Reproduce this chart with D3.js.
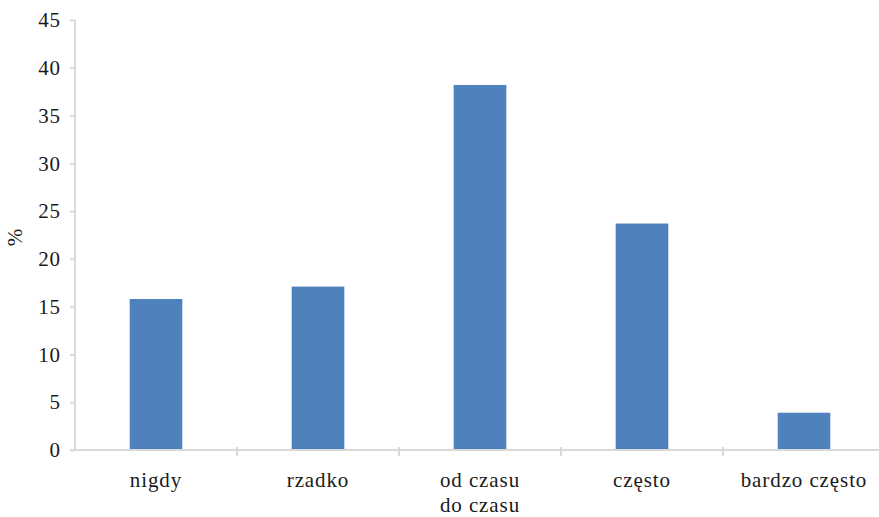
<!DOCTYPE html>
<html>
<head>
<meta charset="utf-8">
<script src="https://cdn.jsdelivr.net/npm/d3@7"></script>
<style>
  html, body { margin: 0; padding: 0; background: #fff; }
</style>
</head>
<body>
<svg id="chart" width="879" height="517"></svg>
<script>
// Response frequency shares, in percent
const categories = [["nigdy"], ["rzadko"], ["od czasu", "do czasu"], ["często"], ["bardzo często"]];
const values = [15.8, 17.1, 38.2, 23.7, 3.9];
const yTicks = [0, 5, 10, 15, 20, 25, 30, 35, 40, 45];
const yLabel = "%";

const FONT = "'Liberation Serif', 'Times New Roman', serif";
const TEXT_COLOR = "#1a1a1a";

const svg = d3.select("#chart");
const plotLeft = 75, plotRight = 885, plotTop = 20, plotBottom = 450;

const x = d3.scaleBand()
  .domain(d3.range(categories.length))
  .range([plotLeft, plotRight])
  .paddingInner(0).paddingOuter(0);

const y = d3.scaleLinear().domain([0, 45]).range([plotBottom, plotTop]);

const axisColor = "#d9d9d9";

function styleText(sel) {
  sel.style("font-family", FONT)
     .style("font-size", "21px")
     .style("letter-spacing", "0.9px")
     .style("fill", TEXT_COLOR);
}

// Bars
svg.append("g").selectAll("rect")
  .data(values)
  .join("rect")
  .attr("x", (d, i) => x(i) + x.bandwidth() * 0.3375)
  .attr("width", x.bandwidth() * 0.325)
  .attr("y", d => y(d))
  .attr("height", d => y(0) - y(d))
  .attr("fill", "#4f81bd");

// Y axis
const yAxis = svg.append("g")
  .attr("transform", `translate(${plotLeft},0)`)
  .call(d3.axisLeft(y).tickValues(yTicks).tickSize(5).tickPadding(9).tickFormat(d3.format("d")));
yAxis.select(".domain").attr("stroke", axisColor).attr("stroke-width", 2)
  .attr("d", `M0,${plotTop}V${plotBottom}`);
yAxis.selectAll(".tick line").attr("stroke", axisColor).attr("stroke-width", 2);
yAxis.selectAll(".tick text").call(styleText);

// X axis: category boundaries as tick marks
const xAxis = svg.append("g").attr("transform", `translate(0,${plotBottom})`);
xAxis.append("line")
  .attr("x1", plotLeft - 5).attr("x2", plotRight)
  .attr("stroke", axisColor).attr("stroke-width", 2);
xAxis.selectAll("line.sep")
  .data(d3.range(1, categories.length + 1))
  .join("line")
  .attr("class", "sep")
  .attr("x1", i => x(i) !== undefined ? x(i) : plotRight)
  .attr("x2", i => x(i) !== undefined ? x(i) : plotRight)
  .attr("y1", -3).attr("y2", 6)
  .attr("stroke", axisColor).attr("stroke-width", 2);

// Category labels
const labels = xAxis.selectAll("text.cat")
  .data(categories)
  .join("text")
  .attr("class", "cat")
  .attr("text-anchor", "middle")
  .call(styleText)
  .attr("transform", (d, i) => `translate(${x(i) + x.bandwidth() / 2},37)`);
labels.selectAll("tspan")
  .data(d => d)
  .join("tspan")
  .attr("x", 0)
  .attr("dy", (d, j) => j === 0 ? 0 : 25)
  .text(d => d);

// Y axis title
svg.append("text")
  .attr("transform", `translate(22,237) rotate(-90)`)
  .attr("text-anchor", "middle")
  .call(styleText)
  .text(yLabel);
</script>
</body>
</html>
